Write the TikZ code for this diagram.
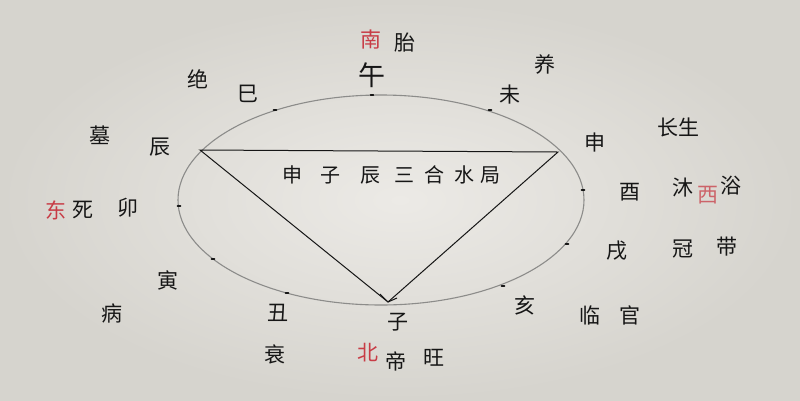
\documentclass[tikz,border=0pt]{standalone}
\usepackage{fontspec}
\newfontfamily\cjk{Noto Sans CJK SC}
\definecolor{paperin}{RGB}{236,234,230}
\definecolor{paperout}{RGB}{214,212,206}
\definecolor{ring}{RGB}{140,140,138}
\definecolor{ink}{RGB}{22,22,22}
\definecolor{redink}{RGB}{200,60,70}
\tikzset{
  lbl/.style={font=\cjk\fontsize{21}{21}\selectfont, text=ink, inner sep=0pt},
  big/.style={font=\cjk\fontsize{27}{27}\selectfont, text=ink, inner sep=0pt},
  rlbl/.style={font=\cjk\fontsize{21}{21}\selectfont, text=redink, inner sep=0pt},
  mid/.style={font=\cjk\fontsize{20}{20}\selectfont, text=ink, inner sep=0pt},
  tick/.style={draw=ink, line width=1.6pt, line cap=round},
  ringline/.style={draw=ring, line width=1.1pt},
  tri/.style={draw=ink, line width=1pt}
}
\begin{document}
\begin{tikzpicture}[x=1pt,y=-1pt]
\useasboundingbox (0,0) rectangle (800,400);
\shade[inner color=paperin, outer color=paperout] (0,0) rectangle (800,400);
% circle
\draw[ringline] (381,200) ellipse [x radius=203, y radius=105];
% tick coordinates on the circle
\coordinate (tWu) at (372,95);
\coordinate (tWei) at (490,110);
\coordinate (tShen) at (558,152);
\coordinate (tYou) at (583,190);
\coordinate (tXu) at (567,244);
\coordinate (tHai) at (503,286);
\coordinate (tZi) at (388,302);
\coordinate (tChou) at (287,293);
\coordinate (tYin) at (213,259);
\coordinate (tMao) at (179,206);
\coordinate (tChen) at (200,150);
\coordinate (tSi) at (275,110);
\foreach \p in {tWu,tWei,tYou,tXu,tHai,tChou,tYin,tMao,tSi}
  \draw[tick] ([xshift=-1.5pt]\p) -- ([xshift=1.5pt]\p);
% triangle
\draw[tri] (tChen) -- (tShen) -- (tZi) -- cycle;
\draw[tri] (tZi) -- ++(-8,-8);
\draw[tri] (tZi) -- ++(9,-4);
% labels
\node[rlbl] (nan) at (371,40) {南};
\node[lbl] (tai) at (405,43) {胎};
\node[big] (wu) at (372,75) {午};
\node[lbl] (jue) at (198,79) {绝};
\node[lbl] (si) at (248,94) {巳};
\node[lbl] (yang) at (545,64) {养};
\node[lbl] (wei) at (510,95) {未};
\node[lbl] (mu) at (100,135) {墓};
\node[lbl] (chen) at (160,147) {辰};
\node[lbl] (shen) at (595,143) {申};
\node[lbl] (chsh) at (678,127) {长生};
\node[rlbl] (dong) at (56,210) {东};
\node[lbl] (sisi) at (83,210) {死};
\node[lbl] (mao) at (128,208) {卯};
\node[lbl] (you) at (630,192) {酉};
\node[lbl] (mu2) at (683,188) {沐};
\node[rlbl, opacity=0.75] (xi) at (708,195) {西};
\node[lbl] (yu) at (731,186) {浴};
\node[lbl] (xu) at (617,251) {戌};
\node[lbl] (guan) at (683,249) {冠};
\node[lbl] (dai) at (727,247) {带};
\node[lbl] (yin) at (168,280) {寅};
\node[lbl] (bing) at (112,313) {病};
\node[lbl] (chou) at (278,313) {丑};
\node[lbl] (shuai) at (275,354) {衰};
\node[lbl] (hai) at (525,305) {亥};
\node[lbl] (lin) at (590,315) {临};
\node[lbl] (gong) at (630,315) {官};
\node[lbl] (zi) at (398,322) {子};
\node[rlbl] (bei) at (368,353) {北};
\node[lbl] (di) at (396,361) {帝};
\node[lbl] (wang) at (434,358) {旺};
\node[mid] (ju) at (391,175) {申\hspace{18pt}子\hspace{20pt}辰\hspace{14pt}三\hspace{10pt}合\hspace{10pt}水\hspace{6pt}局};
\end{tikzpicture}
\end{document}
